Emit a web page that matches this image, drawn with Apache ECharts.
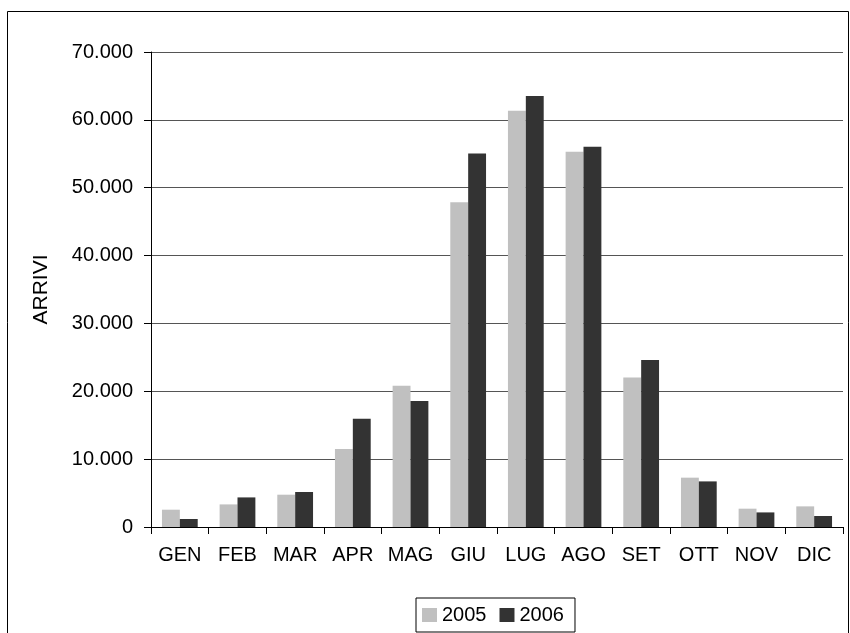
<!DOCTYPE html>
<html>
<head>
<meta charset="utf-8">
<script src="https://cdn.jsdelivr.net/npm/echarts@6/dist/echarts.min.js"></script>
<style>
html,body{margin:0;padding:0;background:#fff;}
#chart{width:850px;height:633px;}
</style>
</head>
<body>
<div id="chart"></div>
<script>
const categories = ['GEN','FEB','MAR','APR','MAG','GIU','LUG','AGO','SET','OTT','NOV','DIC'];
const arrivi2005 = [2550, 3330, 4760, 11500, 20820, 47840, 61350, 55310, 22050, 7270, 2700, 3040];
const arrivi2006 = [1180, 4360, 5160, 15960, 18570, 55060, 63510, 56040, 24610, 6720, 2150, 1620];
const seriesNames = ['2005', '2006'];
const yTicks = [0, 10000, 20000, 30000, 40000, 50000, 60000, 70000];

const fmt = v => String(v).replace(/\B(?=(\d{3})+(?!\d))/g, '.');
const font = 'Arial, "Liberation Sans", sans-serif';

const chart = echarts.init(document.getElementById('chart'), null, {renderer: 'canvas'});
chart.setOption({
  animation: false,
  backgroundColor: '#ffffff',
  textStyle: {fontFamily: font},
  graphic: [{
    type: 'rect',
    shape: {x: 7.5, y: 11.5, width: 841, height: 640},
    style: {fill: 'none', stroke: '#000', lineWidth: 1},
    silent: true, z: -1
  }],
  grid: {left: 151, right: 7, top: 52, bottom: 106, containLabel: false},
  legend: {
    data: seriesNames,
    left: 416,
    bottom: 1,
    orient: 'horizontal',
    itemWidth: 15,
    itemHeight: 14,
    itemGap: 13,
    padding: [7, 11, 7, 6],
    borderColor: '#000',
    borderWidth: 1,
    icon: 'rect',
    textStyle: {fontSize: 20, color: '#000', fontFamily: font}
  },
  xAxis: {
    type: 'category',
    data: categories,
    axisLine: {lineStyle: {color: '#000', width: 1}},
    axisTick: {show: true, length: 7, inside: false, lineStyle: {color: '#000'}},
    axisLabel: {fontSize: 20, color: '#000', margin: 18, interval: 0, hideOverlap: false, fontFamily: font},
    splitLine: {show: false}
  },
  yAxis: {
    type: 'value',
    min: yTicks[0],
    max: yTicks[yTicks.length - 1],
    interval: yTicks[1] - yTicks[0],
    name: 'ARRIVI',
    nameLocation: 'middle',
    nameRotate: 90,
    nameGap: 99,
    nameTextStyle: {fontSize: 21, color: '#000', fontFamily: font},
    axisLine: {show: true, lineStyle: {color: '#000', width: 1}},
    axisTick: {show: true, length: 7, lineStyle: {color: '#000'}},
    axisLabel: {fontSize: 20, color: '#000', margin: 18, formatter: fmt, fontFamily: font},
    splitLine: {show: true, lineStyle: {color: '#555', width: 1}}
  },
  series: [
    {
      name: seriesNames[0],
      type: 'bar',
      data: arrivi2005,
      barGap: '0%',
      barCategoryGap: '38%',
      itemStyle: {color: '#c0c0c0'}
    },
    {
      name: seriesNames[1],
      type: 'bar',
      data: arrivi2006,
      barGap: '0%',
      barCategoryGap: '38%',
      itemStyle: {color: '#333333'}
    }
  ]
});
</script>
</body>
</html>
